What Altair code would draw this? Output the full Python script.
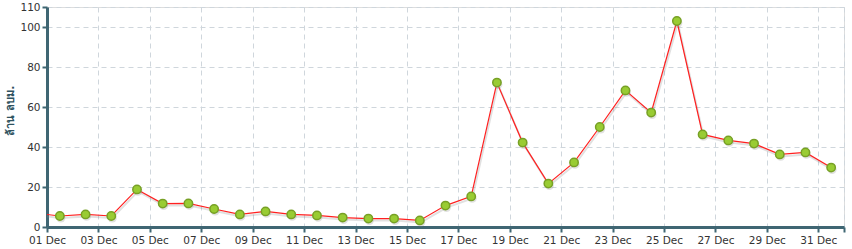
import altair as alt
import pandas as pd

# Day of December (value plotted at midday of each day); day 0 = 30 Nov (clipped lead-in)
days = [0, 1, 2, 3, 4, 5, 6, 7, 8, 9, 10, 11, 12, 13, 14, 15, 16,
        17, 18, 19, 20, 21, 22, 23, 24, 25, 26, 27, 28, 29, 30, 31]
values = [7.0, 5.5, 6.3, 5.5, 18.8, 11.7, 11.8, 9.0, 6.3, 7.8, 6.3, 5.8, 4.7, 4.2, 4.2, 3.3,
          10.7, 15.3, 72.2, 42.2, 21.7, 32.3, 50.0, 68.3, 57.2, 103.0, 46.3, 43.3,
          41.7, 36.3, 37.3, 29.7]
x_tick_values = [1, 3, 5, 7, 9, 11, 13, 15, 17, 19, 21, 23, 25, 27, 29, 31, 32]
y_tick_values = [0, 20, 40, 60, 80, 100, 110]
y_title = "ล้าน ลบม."

df = pd.DataFrame({"day": days, "value": values})
df["pos"] = df["day"] + 0.5
df["shown"] = df["day"] >= 1

AXIS_COLOR = "#3f6673"
FONT = "DejaVu Sans"

x_enc = alt.X(
    "pos:Q",
    scale=alt.Scale(domain=[1, 32], nice=False, zero=False),
    axis=alt.Axis(
        values=x_tick_values,
        labelExpr="datum.value >= 32 ? '' : (datum.value < 10 ? '0' : '') + datum.value + ' Dec'",
        title=None,
        grid=True,
        gridDash=[5, 4],
        gridColor="#cfd6dc",
        domainColor=AXIS_COLOR,
        domainWidth=3,
        tickColor=AXIS_COLOR,
        tickWidth=2,
        tickSize=5,
        labelPadding=3,
        labelFont=FONT,
        labelFontSize=10.5,
        labelColor="#333333",
        labelFlush=False,
        labelOverlap=False,
    ),
)
y_enc = alt.Y(
    "value:Q",
    scale=alt.Scale(domain=[0, 110], nice=False),
    axis=alt.Axis(
        values=y_tick_values,
        title=y_title,
        titleFont=FONT,
        titleFontSize=11,
        titleFontWeight="bold",
        titleColor="#2f5260",
        titleX=-37,
        titleY=103,
        titleAlign="center",
        titleBaseline="middle",
        grid=True,
        gridDash=[5, 4],
        gridColor="#cfd6dc",
        domainColor=AXIS_COLOR,
        domainWidth=3,
        tickColor=AXIS_COLOR,
        tickWidth=2,
        tickSize=5,
        labelPadding=2,
        labelFont=FONT,
        labelFontSize=10.5,
        labelColor="#333333",
    ),
)

base = alt.Chart(df)

line_shadow = base.mark_line(
    clip=True, color="#888888", strokeWidth=2, opacity=0.25, xOffset=1, yOffset=2
).encode(x=x_enc, y=y_enc)

line = base.mark_line(clip=True, color="#ff2020", strokeWidth=1.2).encode(x=x_enc, y=y_enc)

pts = base.transform_filter("datum.shown")

point_shadow = pts.mark_point(
    shape="circle", filled=True, size=80, color="#888888", opacity=0.25, xOffset=1, yOffset=2
).encode(x=x_enc, y=y_enc)

points = pts.mark_point(
    shape="circle", filled=True, size=70, fill="#99cc33", stroke="#77a025",
    strokeWidth=1.5, opacity=1
).encode(x=x_enc, y=y_enc)

chart = alt.layer(line_shadow, line, point_shadow, points).properties(
    width=797,
    height=220,
    autosize=alt.AutoSizeParams(type="none"),
    padding={"left": 47, "top": 7, "right": 8, "bottom": 22},
).configure_view(stroke=None).configure(background="white")

chart.save("out.html", embed_options={"renderer": "svg", "actions": False})
